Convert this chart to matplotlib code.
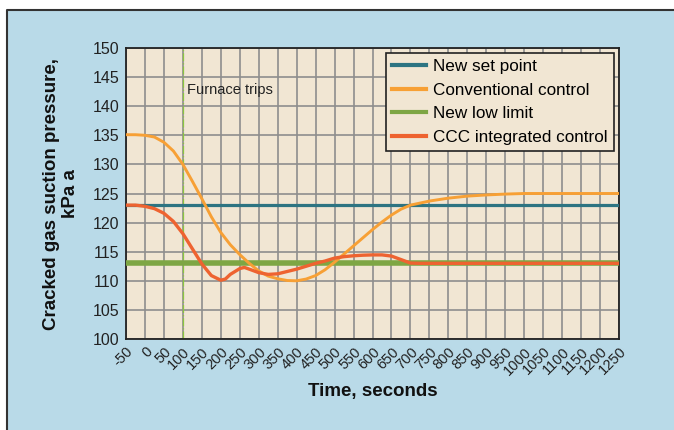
# compressor suction pressure after a furnace trip
import matplotlib
matplotlib.use("Agg")
import matplotlib.pyplot as plt
from matplotlib.patches import Rectangle
from matplotlib.lines import Line2D

plt.rcParams['font.family'] = ['Liberation Sans', 'DejaVu Sans']

# data
t_conv = [-50, -25, 0, 25, 50, 75, 100, 125, 150, 175, 200, 225, 250, 275, 300,
          325, 350, 375, 400, 425, 450, 475, 500, 525, 550, 575, 600, 625, 650,
          675, 700, 750, 800, 850, 900, 950, 1000, 1250]
p_conv = [135.1, 135.1, 135.0, 134.7, 133.8, 132.3, 130.0, 127.1, 124.1, 121.0,
          118.3, 116.2, 114.5, 113.0, 111.7, 110.8, 110.35, 110.05, 110.0, 110.3,
          110.9, 111.9, 113.2, 114.6, 116.0, 117.4, 118.8, 120.1, 121.3, 122.3,
          123.0, 123.7, 124.2, 124.55, 124.75, 124.9, 125.0, 125.0]

t_ccc = [-50, -25, 0, 25, 50, 75, 100, 125, 150, 175, 200, 212, 225, 250, 262,
         275, 300, 325, 350, 375, 400, 425, 450, 475, 500, 525, 550, 575, 600,
         625, 650, 675, 700, 725, 1250]
p_ccc = [123.0, 123.0, 122.8, 122.4, 121.6, 120.2, 118.1, 115.5, 112.9, 110.9,
         110.1, 110.3, 111.1, 112.1, 112.3, 112.0, 111.4, 111.1, 111.2, 111.6,
         112.0, 112.5, 113.0, 113.4, 113.9, 114.15, 114.3, 114.4, 114.45, 114.45,
         114.25, 113.65, 113.05, 113.0, 113.0]

t_range = [-50, 1250]
set_point = [123, 123]
low_limit = [113, 113]
trip_time = 100

x_ticks = list(range(-50, 1251, 50))
y_ticks = list(range(100, 151, 5))

# colors
panel_blue = '#b9dae8'
plot_bg = '#f1e6d3'
c_set = '#2d7482'
c_conv = '#f7a035'
c_low = '#7ea644'
c_ccc = '#ee6330'

fig = plt.figure(figsize=(6.74, 4.3), dpi=100)
fig.patch.set_facecolor('white')

# blue panel behind the chart, border only on top and left
px_l, px_t = 7 / 674, 1 - 10 / 430
fig.add_artist(Rectangle((px_l, 0), 1 - px_l, px_t, transform=fig.transFigure,
                         facecolor=panel_blue, edgecolor='none', zorder=-10))
fig.add_artist(Line2D([px_l, px_l, 1], [0, px_t, px_t], transform=fig.transFigure,
                      color='#333333', lw=1.5, zorder=-9))

ax = fig.add_axes([126 / 674, 1 - 339 / 430, 493 / 674, 291 / 430])
ax.set_facecolor(plot_bg)

ax.plot(t_range, set_point, color=c_set, lw=2.3, label='New set point', zorder=3)
ax.plot(t_conv, p_conv, color=c_conv, lw=2.1, label='Conventional control', zorder=4)
ax.plot(t_range, low_limit, color=c_low, lw=4.0, label='New low limit', zorder=3)
ax.plot(t_ccc, p_ccc, color=c_ccc, lw=2.4, label='CCC integrated control', zorder=5)

ax.axvline(trip_time, color='#8cc63f', lw=0.9, ls='-.', zorder=2)
ax.text(trip_time + 12, 142.8, 'Furnace trips', fontsize=10.5, color='#222222',
        va='center', ha='left')

ax.set_xlim(-50, 1250)
ax.set_ylim(100, 150)
ax.set_xticks(x_ticks)
ax.set_yticks(y_ticks)
ax.set_xticklabels([str(v) for v in x_ticks], rotation=45, ha='right', va='top',
                   rotation_mode='anchor', fontsize=10.5)
ax.tick_params(axis='both', length=0, colors='#222222')
ax.tick_params(axis='y', labelsize=11.5, pad=5)
ax.tick_params(axis='x', pad=4)
ax.grid(True, color='#8e8e8e', lw=1.2)
ax.set_axisbelow(True)
for sp in ax.spines.values():
    sp.set_color('#222222')
    sp.set_linewidth(1.3)

ax.set_xlabel('Time, seconds', fontsize=13.5, fontweight='bold', color='#111111')
ax.xaxis.set_label_coords(0.5, -0.15)
ax.set_ylabel('Cracked gas suction pressure,\nkPa a', fontsize=13.5,
              fontweight='bold', color='#111111', linespacing=1.2)
ax.yaxis.set_label_coords(-0.095, 0.5)

leg = ax.legend(loc='upper right', fontsize=12.3, frameon=True, fancybox=False,
                borderaxespad=0.3, handlelength=2.0, handletextpad=0.4,
                labelspacing=0.5, borderpad=0.35)
leg.get_frame().set_facecolor(plot_bg)
leg.get_frame().set_edgecolor('#222222')
leg.get_frame().set_linewidth(1.2)
leg.get_frame().set_alpha(1)
for line in leg.get_lines():
    line.set_linewidth(3)

fig.savefig('out.png', dpi=100)
